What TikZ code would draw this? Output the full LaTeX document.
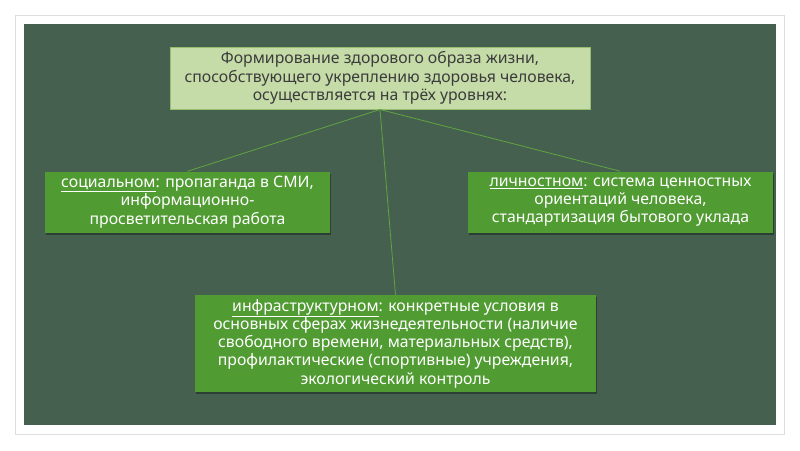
\documentclass[tikz,border=0pt]{standalone}
\usepackage{fontspec}
\setmainfont{Noto Sans}
\usetikzlibrary{shadows}
\definecolor{bgdark}{RGB}{70,96,80}
\definecolor{topfill}{RGB}{197,219,168}
\definecolor{topborder}{RGB}{150,190,110}
\definecolor{boxfill}{RGB}{80,155,50}
\definecolor{linkcol}{RGB}{95,165,65}
\definecolor{frameborder}{RGB}{221,221,221}
\definecolor{toptext}{RGB}{60,60,60}
\tikzset{
  topbox/.style={draw=topborder, line width=1pt, fill=topfill, text=toptext,
    align=center, inner sep=0pt, font=\fontsize{15.8}{18.5}\selectfont},
  levelbox/.style={fill=boxfill, text=white, align=center, inner sep=0pt,
    font=\fontsize{15.8}{18.3}\selectfont,
    drop shadow={shadow xshift=1pt, shadow yshift=-2pt, fill=black, opacity=0.35}},
  link/.style={draw=linkcol, line width=0.8pt}
}
\begin{document}
\begin{tikzpicture}[x=1pt,y=-1pt]
\useasboundingbox (0,0) rectangle (800,450);
\fill[white] (0,0) rectangle (800,450);
\draw[frameborder, line width=1pt, fill=white] (15.5,15.5) rectangle (784,434);
\fill[bgdark] (24,24) rectangle (776,425);
\node[topbox, minimum width=420pt, minimum height=62pt] (top) at (380,78)
  {Формирование здорового образа жизни,\\способствующего укреплению здоровья человека,\\осуществляется на трёх уровнях:};
\node[levelbox, minimum width=285pt, minimum height=61pt] (soc) at (187.5,202)
  {\underline{социальном}: пропаганда в СМИ,\\информационно-\\просветительская работа};
\node[levelbox, minimum width=305pt, minimum height=61pt] (lich) at (620.5,202)
  {\underline{личностном}: система ценностных\\ориентаций человека,\\стандартизация бытового уклада};
\node[levelbox, minimum width=401pt, minimum height=97pt] (infra) at (395.5,343.5)
  {\underline{инфраструктурном}: конкретные условия в\\основных сферах жизнедеятельности (наличие\\свободного времени, материальных средств),\\профилактические (спортивные) учреждения,\\экологический контроль};
\draw[link] (top.south) -- (soc.north);
\draw[link] (top.south) -- (lich.north);
\draw[link] (top.south) -- (infra.north);
\end{tikzpicture}
\end{document}
